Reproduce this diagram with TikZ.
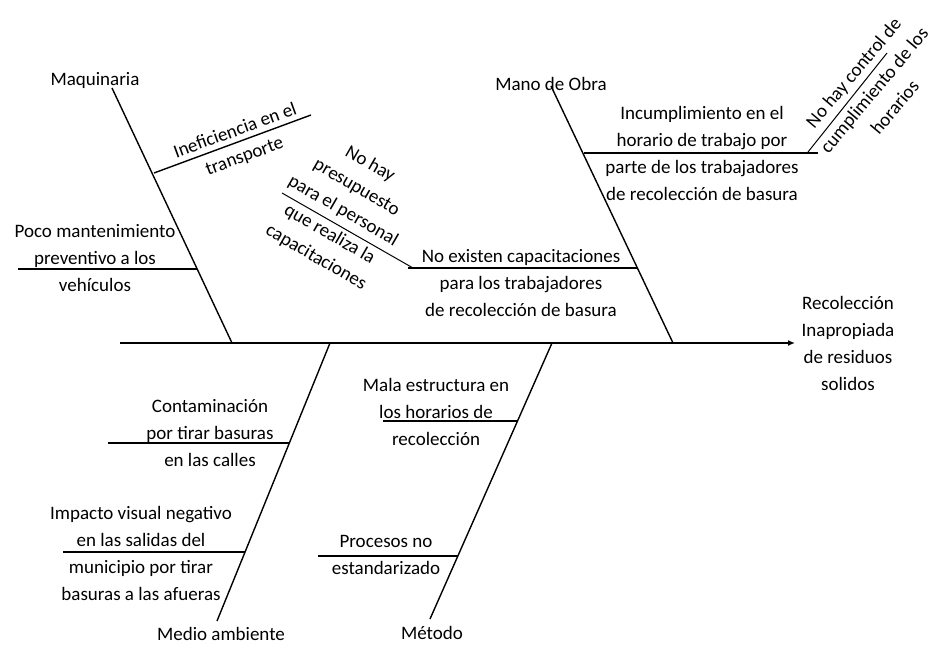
\documentclass[tikz,border=0pt]{standalone}
\usepackage{fontspec}
\setmainfont{Carlito}
\usetikzlibrary{arrows.meta}

\begin{document}
\begin{tikzpicture}[x=1pt,y=-1pt,
		hueso/.style={line width=1.4pt},
		texto/.style={align=center,inner sep=0pt,
			font=\fontsize{19}{27}\selectfont}]
	\useasboundingbox (0,0) rectangle (940,645);
	% espina central
	\coordinate (inicio) at (120,343);
	\coordinate (punta) at (795,343);
	\draw[hueso,-{Latex[length=7pt,width=6pt]}] (inicio) -- (punta);
	\node[texto] (efecto) at (848,343) {Recolección\\Inapropiada\\de residuos\\solidos};
	% categorias
	\coordinate (maqA) at (112,88);   \coordinate (maqB) at (232,343);
	\coordinate (manA) at (551,86);   \coordinate (manB) at (673,343);
	\coordinate (medA) at (217,621);  \coordinate (medB) at (330,343);
	\coordinate (metA) at (430,619);  \coordinate (metB) at (552,343);
	\draw[hueso] (maqA) -- (maqB);
	\draw[hueso] (manA) -- (manB);
	\draw[hueso] (medA) -- (medB);
	\draw[hueso] (metA) -- (metB);
	\node[texto] (maq) at (95,80) {Maquinaria};
	\node[texto] (man) at (551,84) {Mano de Obra};
	\node[texto] (med) at (221,634) {Medio ambiente};
	\node[texto] (met) at (432,633) {Método};
	% causas de maquinaria
	\coordinate (inefA) at (154,173); \coordinate (inefB) at (311,115);
	\draw[hueso] (inefA) -- (inefB);
	\node[texto,rotate=20] (inef) at (240,144) {Ineficiencia en el\\transporte};
	\coordinate (pocoA) at (18,269);  \coordinate (pocoB) at (197,269);
	\draw[hueso] (pocoA) -- (pocoB);
	\node[texto] (poco) at (95,258) {Poco mantenimiento\\preventivo a los\\vehículos};
	% causas de mano de obra
	\coordinate (incA) at (584,153);  \coordinate (incB) at (818,153);
	\draw[hueso] (incA) -- (incB);
	\node[texto] (inc) at (702,153) {Incumplimiento en el\\horario de trabajo por\\parte de los trabajadores\\de recolección de basura};
	\coordinate (ctrlA) at (808,152); \coordinate (ctrlB) at (887,53);
	\draw[line width=1pt] (ctrlA) -- (ctrlB);
	\node[texto,rotate=50] (ctrl) at (874,90) {No hay control de\\cumplimiento de los\\horarios};
	\coordinate (capA) at (408,268);  \coordinate (capB) at (637,268);
	\draw[hueso] (capA) -- (capB);
	\node[texto] (cap) at (521,283) {No existen capacitaciones\\para los trabajadores\\de recolección de basura};
	\coordinate (presA) at (282,193); \coordinate (presB) at (413,268);
	\draw[line width=1pt] (presA) -- (presB);
	\node[texto,rotate=-30] (pres) at (343,211) {No hay\\presupuesto\\para el personal\\que realiza la\\capacitaciones};
	% causas de medio ambiente
	\coordinate (contA) at (108,443); \coordinate (contB) at (289,443);
	\draw[hueso] (contA) -- (contB);
	\node[texto] (cont) at (210,433) {Contaminación\\por tirar basuras\\en las calles};
	\coordinate (impA) at (63,552);   \coordinate (impB) at (245,552);
	\draw[hueso] (impA) -- (impB);
	\node[texto] (imp) at (141,553) {Impacto visual negativo\\en las salidas del\\municipio por tirar\\basuras a las afueras};
	% causas de metodo
	\coordinate (malaA) at (383,421); \coordinate (malaB) at (517,421);
	\draw[hueso] (malaA) -- (malaB);
	\node[texto] (mala) at (436,412) {Mala estructura en\\los horarios de\\recolección};
	\coordinate (procA) at (318,556); \coordinate (procB) at (458,556);
	\draw[hueso] (procA) -- (procB);
	\node[texto] (proc) at (386,555) {Procesos no\\estandarizado};
\end{tikzpicture}
\end{document}
